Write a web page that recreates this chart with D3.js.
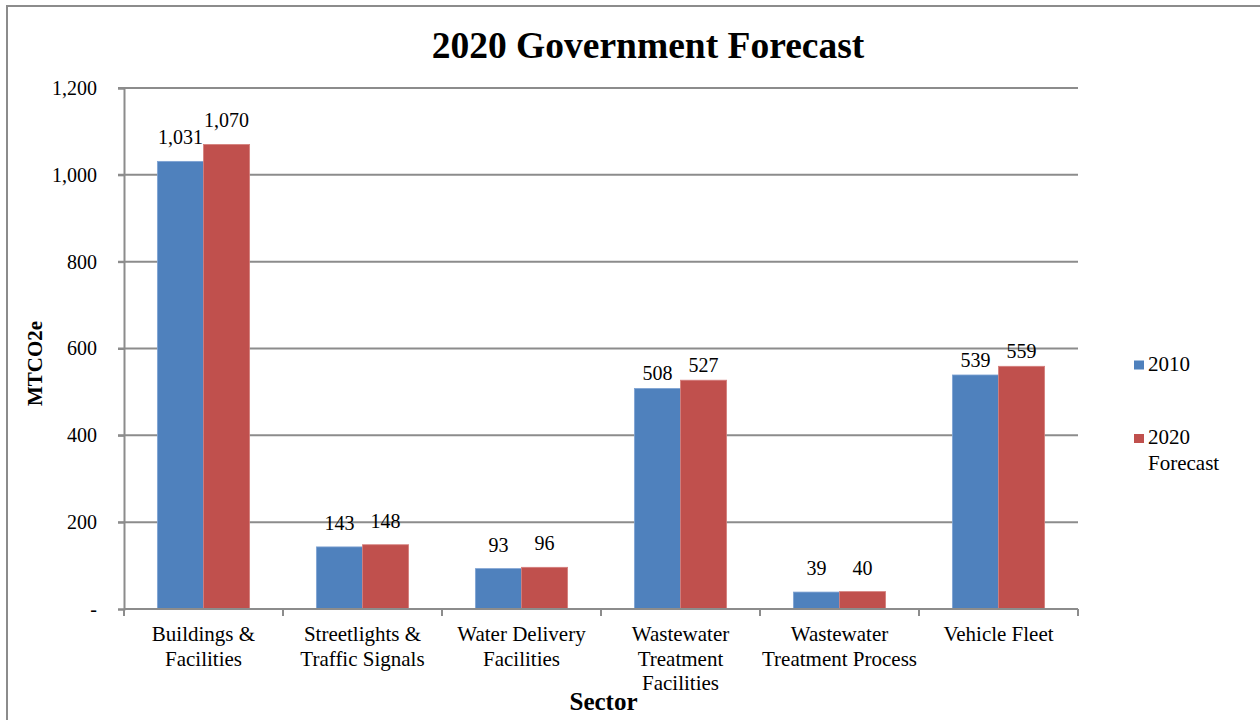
<!DOCTYPE html>
<html>
<head>
<meta charset="utf-8">
<script src="https://cdn.jsdelivr.net/npm/d3@7"></script>
<style>
  html, body { margin: 0; padding: 0; background: #fff; }
  svg { display: block; font-family: "Liberation Serif", "Times New Roman", serif; }
</style>
</head>
<body>
<svg id="chart" width="1260" height="720"></svg>
<script>
// Emissions by sector (MTCO2e)
const categories = [
  ["Buildings &", "Facilities"],
  ["Streetlights &", "Traffic Signals"],
  ["Water Delivery", "Facilities"],
  ["Wastewater", "Treatment", "Facilities"],
  ["Wastewater", "Treatment Process"],
  ["Vehicle Fleet"]
];
const series2010 = [1031, 143, 93, 508, 39, 539];
const series2020 = [1070, 148, 96, 527, 40, 559];
const seriesNames = ["2010", ["2020", "Forecast"]];
const yTicks = [0, 200, 400, 600, 800, 1000, 1200];

const colors = ["#4F81BD", "#C0504D"];
const serif = "Liberation Serif, Times New Roman, serif";
const svg = d3.select("#chart");

// outer frame
svg.append("rect")
  .attr("x", 7).attr("y", 6).attr("width", 1270).attr("height", 730)
  .attr("fill", "none").attr("stroke", "#8c8c8c").attr("stroke-width", 2);

const plot = { left: 124, right: 1078, top: 88, bottom: 609 };

const x = d3.scaleBand()
  .domain(d3.range(categories.length))
  .range([plot.left, plot.right])
  .paddingInner(0).paddingOuter(0);

const y = d3.scaleLinear().domain([0, 1200]).range([plot.bottom, plot.top]);

// horizontal gridlines
svg.append("g").selectAll("line").data(yTicks.filter(d => d > 0)).join("line")
  .attr("x1", plot.left - 6).attr("x2", plot.right)
  .attr("y1", d => y(d)).attr("y2", d => y(d))
  .attr("stroke", "#8c8c8c").attr("stroke-width", 2);

// y axis
const yAxis = d3.axisLeft(y).tickValues(yTicks).tickSize(6).tickPadding(21)
  .tickFormat(d => d === 0 ? "-" : d3.format(",")(d));
const gy = svg.append("g").attr("transform", `translate(${plot.left},0)`).call(yAxis)
  .attr("font-family", serif).attr("font-size", 20);
gy.select(".domain").attr("stroke", "#8c8c8c").attr("stroke-width", 2);
gy.selectAll(".tick line").attr("stroke", "#8c8c8c").attr("stroke-width", 2);
gy.selectAll(".tick text").attr("fill", "#000");

// bars
const groupW = x.bandwidth() * 0.58;
const barW = groupW / 2;
const data = categories.map((c, i) => ({ i, vals: [series2010[i], series2020[i]] }));

const groups = svg.append("g").selectAll("g").data(data).join("g");
groups.each(function(d) {
  const g = d3.select(this);
  const x0 = x(d.i) + (x.bandwidth() - groupW) / 2;
  d.vals.forEach((v, k) => {
    g.append("rect")
      .attr("x", x0 + k * barW).attr("y", y(v))
      .attr("width", barW).attr("height", y(0) - y(v))
      .attr("fill", colors[k])
      .attr("stroke", k === 0 ? "#7fa3d3" : "#d57f7c").attr("stroke-width", 0.8);
    // labels sit higher above the short bars and the first group
    const off = (v > 400 && v < 1000) ? 8 : 17;
    g.append("text")
      .attr("x", x0 + k * barW + barW / 2).attr("y", y(v) - off)
      .attr("text-anchor", "middle").attr("font-size", 20).attr("fill", "#000")
      .text(d3.format(",")(v));
  });
});

// x axis
const gx = svg.append("g").attr("transform", `translate(0,${plot.bottom})`);
gx.append("line").attr("x1", plot.left).attr("x2", plot.right)
  .attr("stroke", "#8c8c8c").attr("stroke-width", 2);
gx.selectAll("line.tick").data(d3.range(categories.length + 1)).join("line")
  .attr("class", "tick")
  .attr("x1", i => i < categories.length ? x(i) : plot.right)
  .attr("x2", i => i < categories.length ? x(i) : plot.right)
  .attr("y1", 0).attr("y2", 7)
  .attr("stroke", "#8c8c8c").attr("stroke-width", 2);
gx.selectAll("text").data(categories).join("text")
  .attr("text-anchor", "middle").attr("font-size", 21).attr("fill", "#000")
  .each(function(lines, i) {
    const t = d3.select(this);
    lines.forEach((ln, j) => {
      t.append("tspan").attr("x", x(i) + x.bandwidth() / 2).attr("y", 32 + j * 24.5).text(ln);
    });
  });

// titles
svg.append("text").attr("x", 648).attr("y", 57.5).attr("text-anchor", "middle")
  .attr("font-size", 37.5).attr("font-weight", "bold").text("2020 Government Forecast");
svg.append("text").attr("x", 603.5).attr("y", 710).attr("text-anchor", "middle")
  .attr("font-size", 25).attr("font-weight", "bold").text("Sector");
svg.append("text").attr("transform", "translate(41.5,363.5) rotate(-90)")
  .attr("text-anchor", "middle").attr("font-size", 21).attr("font-weight", "bold")
  .text("MTCO2e");

// legend
const legend = svg.append("g");
const legendBase = [370.5, 444];
seriesNames.forEach((name, k) => {
  legend.append("rect").attr("x", 1134).attr("y", legendBase[k] - 10)
    .attr("width", 10).attr("height", 9).attr("fill", colors[k]);
  const t = legend.append("text").attr("font-size", 21).attr("fill", "#000");
  const lines = Array.isArray(name) ? name : [name];
  lines.forEach((ln, j) => {
    t.append("tspan").attr("x", 1148).attr("y", legendBase[k] + j * 26).text(ln);
  });
});
</script>
</body>
</html>
